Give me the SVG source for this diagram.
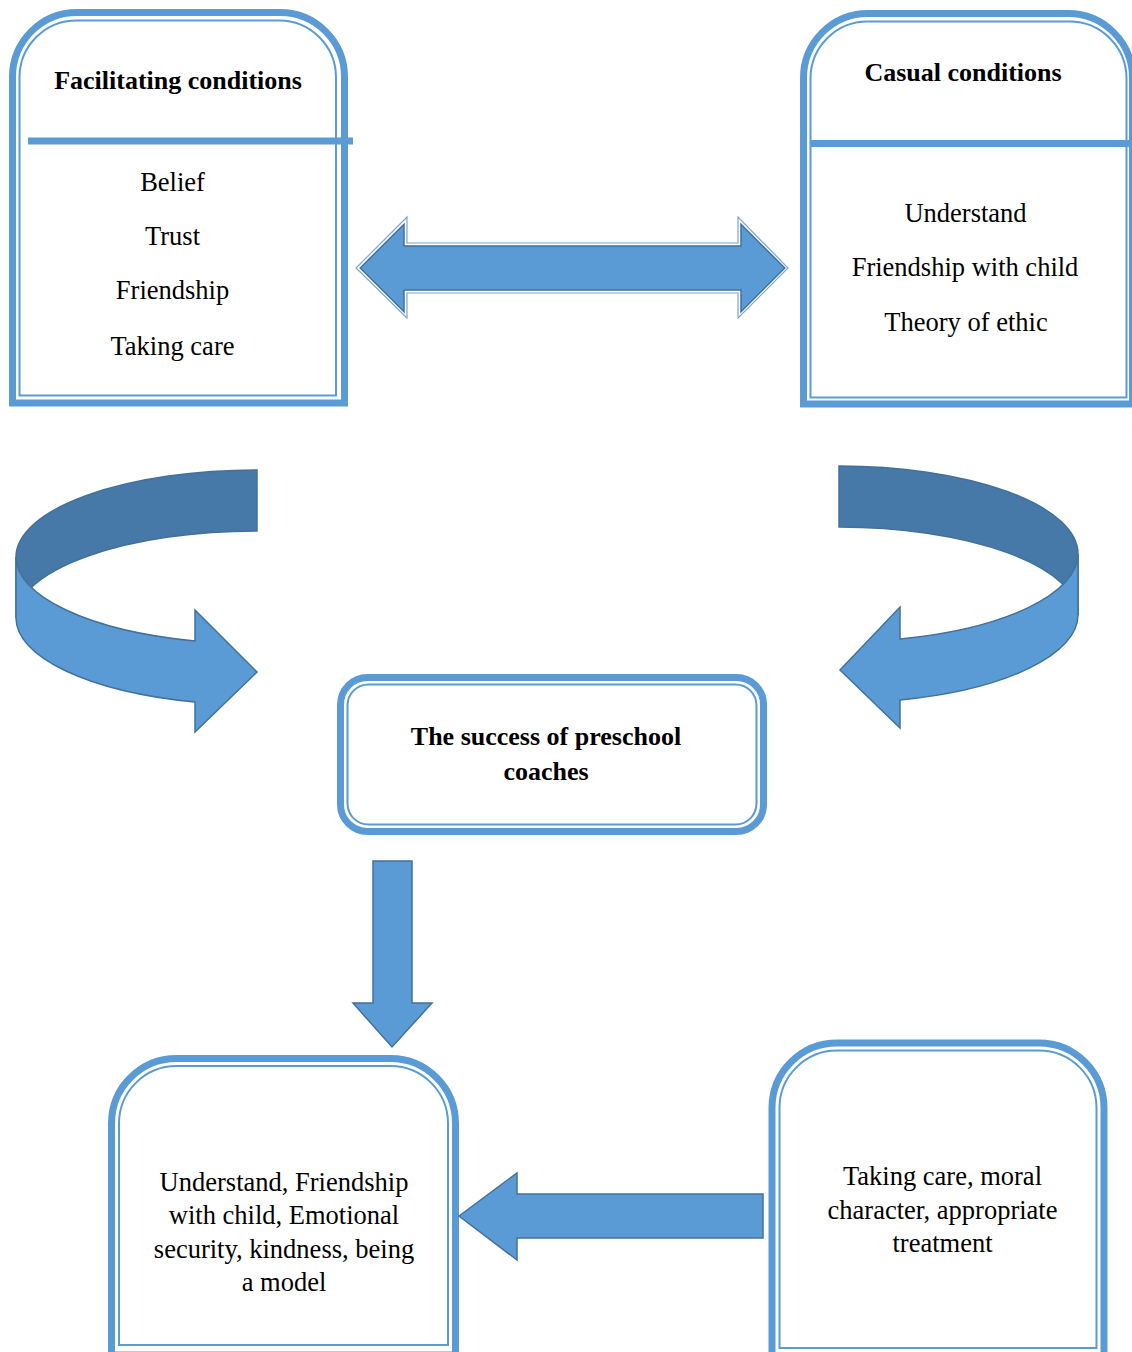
<svg xmlns="http://www.w3.org/2000/svg" width="1132" height="1352" viewBox="0 0 1132 1352">
<style>
.thick{fill:none;stroke:#5B9BD5;stroke-width:7}
.thin{fill:none;stroke:#5B9BD5;stroke-width:2}
.t{font-family:"Liberation Serif","Times New Roman",serif;font-size:26.5px;fill:#000;text-anchor:middle}
.b{font-weight:bold;font-size:26px}
.arrow{fill:#5B9BD5;stroke:#41719C;stroke-width:1.5;stroke-linejoin:miter}
.dark{fill:#4679A8;stroke:#41719C;stroke-width:1.5}
.outl{fill:#ffffff;stroke:#7fa6cc;stroke-width:1.2}
</style>
<rect width="1132" height="1352" fill="#ffffff"/>

<g id="facilitating">
  <path class="thick" d="M12.5,403 L12.5,77 A64.5,64.5 0 0 1 77,12.5 L280,12.5 A64.5,64.5 0 0 1 344.5,77 L344.5,403 Z"/>
  <path class="thin" d="M19.5,395.5 L19.5,77 A57,57 0 0 1 76.5,20.5 L279,20.5 A57,57 0 0 1 336,77 L336,395.5 Z"/>
  <line x1="28" y1="141" x2="353" y2="141" stroke="#5B9BD5" stroke-width="7"/>
  <text class="t b" x="178" y="89">Facilitating conditions</text>
  <text class="t" x="172.5" y="191">Belief</text>
  <text class="t" x="172.5" y="245">Trust</text>
  <text class="t" x="172.5" y="299">Friendship</text>
  <text class="t" x="172.5" y="355">Taking care</text>
</g>

<g id="casual">
  <path class="thick" d="M803.5,404 L803.5,78 A64.5,64.5 0 0 1 868,13.5 L1068,13.5 A64.5,64.5 0 0 1 1132.5,78 L1132.5,404 Z"/>
  <path class="thin" d="M810.5,397.5 L810.5,78.5 A57,57 0 0 1 867.5,21.5 L1069.5,21.5 A57,57 0 0 1 1126.5,78.5 L1126.5,397.5 Z"/>
  <line x1="810" y1="143.5" x2="1132" y2="143.5" stroke="#5B9BD5" stroke-width="7"/>
  <text class="t b" x="963" y="81">Casual conditions</text>
  <text class="t" x="965.5" y="222">Understand</text>
  <text class="t" x="965" y="276">Friendship with child</text>
  <text class="t" x="966" y="331">Theory of ethic</text>
</g>

<g id="success">
  <rect class="thick" x="340.5" y="677.5" width="423" height="154" rx="27"/>
  <rect class="thin" x="347.5" y="684.5" width="409" height="140" rx="21"/>
  <text class="t b" x="546" y="745">The success of preschool</text>
  <text class="t b" x="546" y="780">coaches</text>
</g>

<g id="outcome">
  <path class="thick" d="M111.5,1355 L111.5,1123.5 A65,65 0 0 1 176.5,1058.5 L390.5,1058.5 A65,65 0 0 1 455.5,1123.5 L455.5,1355 Z"/>
  <path class="thin" d="M119,1345 L119,1123.5 A57.5,57.5 0 0 1 176.5,1066 L390.5,1066 A57.5,57.5 0 0 1 448,1123.5 L448,1345 Z"/>
  <text class="t" x="284" y="1191">Understand, Friendship</text>
  <text class="t" x="284" y="1224">with child, Emotional</text>
  <text class="t" x="284" y="1258">security, kindness, being</text>
  <text class="t" x="284" y="1291">a model</text>
</g>

<g id="strategies">
  <path class="thick" d="M772,1358 L772,1108 A65,65 0 0 1 837,1043 L1039,1043 A65,65 0 0 1 1104,1108 L1104,1358 Z"/>
  <path class="thin" d="M779.5,1348 L779.5,1108 A57.5,57.5 0 0 1 837,1050.5 L1039,1050.5 A57.5,57.5 0 0 1 1096.5,1108 L1096.5,1348 Z"/>
  <text class="t" x="942.5" y="1185">Taking care, moral</text>
  <text class="t" x="942.5" y="1219">character, appropriate</text>
  <text class="t" x="942.5" y="1252">treatment</text>
</g>

<g id="connectors">
  <path class="outl" d="M356,268 L407,217 L407,243 L738,243 L738,217 L788,268 L738,318 L738,293 L407,293 L407,318 Z"/>
  <path class="arrow" d="M360.2,268 L404,224.2 L404,246 L741,246 L741,224.2 L784.8,268 L741,311.8 L741,290 L404,290 L404,311.8 Z"/>

  <path class="dark" d="M257,470 A241,87 0 0 0 16,557 L16,618 A241,87 0 0 1 257,531 Z"/>
  <path class="arrow" d="M16,557 A241,87 0 0 0 195,641 L195,610 L257,672 L195,732 L195,702 A241,87 0 0 1 16,618 Z"/>

  <path class="dark" d="M839,466 A239,88 0 0 1 1078,554 L1078,615 A239,88 0 0 0 839,527 Z"/>
  <path class="arrow" d="M1078,554 A239,88 0 0 1 900,639 L900,607 L840,670 L900,728 L900,700 A239,88 0 0 0 1078,615 Z"/>

  <path class="arrow" d="M373,861 L412,861 L412,1003 L432,1003 L392,1047 L353,1003 L373,1003 Z"/>

  <path class="arrow" d="M459,1216 L517,1173 L517,1194 L763,1194 L763,1238 L517,1238 L517,1260 Z"/>
</g>
</svg>
